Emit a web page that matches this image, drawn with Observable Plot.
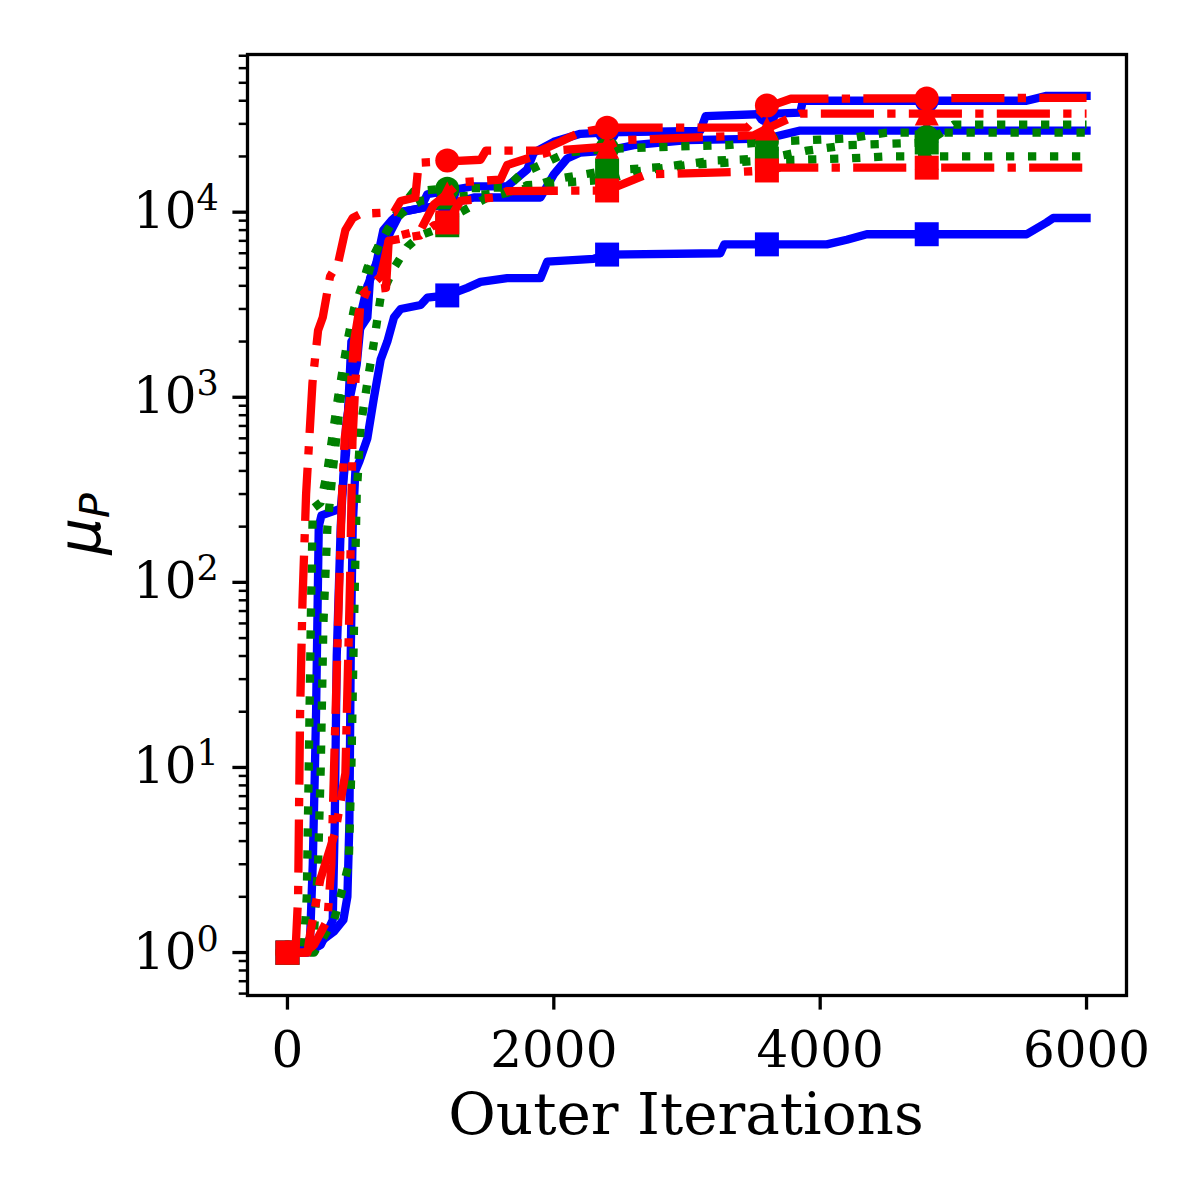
<!DOCTYPE html>
<html><head><meta charset="utf-8">
<script src="https://cdn.jsdelivr.net/npm/d3@7"></script>
<script src="https://cdn.jsdelivr.net/npm/@observablehq/plot@0.6"></script>
<style>body{margin:0;background:#fff}#chart{width:1200px;height:1200px}</style>
</head><body><div id="chart"></div>
<script>
// ---- data ----
const markerX = [0, 1200, 2400, 3600, 4800];
const xTicks = [0, 2000, 4000, 6000];
const yMajorTicks = [1, 10, 100, 1000, 10000];
const yMinorTicks = [0.6, 0.7, 0.8, 0.9, 2, 3, 4, 5, 6, 7, 8, 9, 20, 30, 40, 50, 60, 70, 80, 90,
  200, 300, 400, 500, 600, 700, 800, 900, 2000, 3000, 4000, 5000, 6000, 7000, 8000, 9000,
  20000, 30000, 40000, 50000, 60000, 70000];

const blueCircle = [[0,1],[100,1],[170,1.2],[190,3],[205,9],[215,20],[235,200],[255,230],[400,250],[440,500],[480,2000],[600,2700],[620,4400],[700,6000],[780,8000],[850,10000],[1000,10500],[1050,12500],[1400,13800],[1650,13800],[1800,17000],[1850,21000],[2000,24000],[2200,26500],[2400,27000],[3100,27500],[3140,33000],[3850,34500],[3870,40000],[5550,40000],[5700,42500],[6000,42500]];
const blueCircleMarks = [1, 12800, 27000, 34000, 40000];

const blueTriangle = [[0,1],[150,1],[250,1.1],[300,1.3],[340,1.5],[355,5],[370,40],[400,200],[440,700],[470,1000],[520,1500],[560,3000],[600,4000],[660,5000],[720,8000],[780,9000],[850,10000],[1000,10500],[1200,11000],[1400,12000],[1900,12000],[2000,16000],[2100,19500],[2200,21000],[2400,21500],[2600,23000],[3000,24500],[3600,25000],[3850,27600],[6000,27600]];
const blueTriangleMarks = [1, 11000, 21500, 25000, 27600];

const blueSquare = [[0,1],[100,1],[250,1.15],[350,1.3],[420,1.5],[450,2],[465,5],[475,40],[490,200],[510,400],[540,450],[600,600],[650,1000],[700,1600],[750,2000],[800,2700],[850,3000],[1000,3150],[1050,3450],[1200,3550],[1350,3900],[1450,4200],[1650,4400],[1900,4400],[1950,5400],[2300,5600],[2400,5900],[3250,6000],[3280,6700],[4050,6700],[4200,7100],[4350,7600],[5550,7600],[5700,8800],[5750,9300],[6000,9300]];
const blueSquareMarks = [1, 3550, 5900, 6700, 7600];

const greenCircle = [[0,1],[120,1],[145,2],[160,10],[175,60],[190,250],[250,270],[300,400],[380,1000],[450,2000],[500,3000],[560,4000],[600,5000],[680,6500],[750,8000],[800,9500],[870,11000],[950,13000],[1200,13400],[1650,13600],[1750,16000],[1900,18000],[2100,21000],[2400,22000],[2800,22500],[3300,23000],[3600,24000],[4200,25000],[4500,26900],[6000,26900]];
const greenCircleMarks = [1, 13400, 22000, 24000, 25500];

const greenTriangle = [[0,1],[150,1],[200,1.3],[230,3],[250,10],[270,60],[300,200],[340,400],[400,1000],[480,2000],[560,3500],[620,5000],[700,7000],[800,9000],[900,10500],[1000,11500],[1200,12000],[1500,12500],[1700,13000],[1800,14000],[2400,15000],[2600,16500],[3000,18000],[3600,19000],[4200,19500],[4500,20000],[6000,20000]];
const greenTriangleMarks = [1, 12000, 15000, 19000, 19700];

const greenSquare = [[0,1],[200,1],[350,1.5],[420,2.3],[460,3],[480,10],[500,60],[520,300],[550,700],[600,1200],[650,2000],[700,3500],[800,5000],[900,6500],[1000,7500],[1200,8500],[1300,10000],[1500,12000],[1800,13500],[2000,15000],[2400,16800],[2800,17500],[3200,19000],[3600,19500],[3900,21500],[4200,23000],[4800,23800],[5000,29700],[6000,29700]];
const greenSquareMarks = [1, 8500, 16800, 19500, 23800];

const redCircle = [[0,1],[60,1],[80,2],[95,20],[113,80],[140,300],[188,1200],[230,2300],[265,2700],[320,4500],[380,5300],[435,8000],[490,9300],[550,9800],[800,10000],[850,11500],[960,12000],[985,18500],[1450,19200],[1490,21500],[1900,21500],[2050,24000],[2200,27000],[2400,28600],[3450,28600],[3600,37000],[3780,41000],[6000,41500]];
const redCircleMarks = [1, 19000, 28600, 37700, 41100];

const redTriangle = [[0,1],[150,1],[173,1.3],[248,2.5],[360,4.5],[435,9.3],[470,100],[488,580],[510,1200],[550,3500],[600,3800],[740,3900],[760,7000],[850,7500],[1000,8000],[1100,11000],[1200,12600],[1300,14500],[1600,15000],[1650,18000],[1850,20000],[2000,21500],[2400,22600],[2500,24500],[3500,26000],[3600,28300],[3850,34100],[6000,34100]];
const redTriangleMarks = [1, 12600, 22600, 28300, 34100];

const redSquare = [[0,1],[130,1],[200,1.1],[300,1.5],[330,3],[350,10],[380,60],[410,300],[430,600],[470,1000],[500,2000],[540,3000],[600,3800],[700,4500],[760,7000],[1000,7500],[1100,8500],[1200,8800],[1300,11500],[1550,12000],[1650,13000],[2400,13100],[2600,15000],[2700,16000],[3400,16500],[3600,16800],[3700,17400],[6000,17400]];
const redSquareMarks = [1, 8800, 13100, 16800, 17400];

// ---- styles ----
const BLUE = "#0000ff", GREEN = "#008000", RED = "#ff0000";
const LW = 8.3;
const DOTTED = `${1*LW},${1.65*LW}`;
const DASHDOT = `${6.4*LW},${1.6*LW},${1*LW},${1.6*LW}`;
const H = 12;
const symCircle = {draw(ctx){ ctx.moveTo(H, 0); ctx.arc(0, 0, H, 0, 2*Math.PI); ctx.closePath(); }};
const symTriangle = {draw(ctx){ ctx.moveTo(0, -H); ctx.lineTo(H, H); ctx.lineTo(-H, H); ctx.closePath(); }};
const symSquare = {draw(ctx){ ctx.rect(-H, -H, 2*H, 2*H); }};

const series = [
  {line: blueCircle, marks: blueCircleMarks, color: BLUE, dash: null, sym: symCircle},
  {line: blueTriangle, marks: blueTriangleMarks, color: BLUE, dash: null, sym: symTriangle},
  {line: blueSquare, marks: blueSquareMarks, color: BLUE, dash: null, sym: symSquare},
  {line: greenCircle, marks: greenCircleMarks, color: GREEN, dash: DOTTED, sym: symCircle},
  {line: greenTriangle, marks: greenTriangleMarks, color: GREEN, dash: DOTTED, sym: symTriangle},
  {line: greenSquare, marks: greenSquareMarks, color: GREEN, dash: DOTTED, sym: symSquare},
  {line: redCircle, marks: redCircleMarks, color: RED, dash: DASHDOT, sym: symCircle},
  {line: redTriangle, marks: redTriangleMarks, color: RED, dash: DASHDOT, sym: symTriangle},
  {line: redSquare, marks: redSquareMarks, color: RED, dash: DASHDOT, sym: symSquare},
];

const seriesMarks = series.flatMap(s => [
  Plot.line(s.line, {x: d => d[0], y: d => d[1], stroke: s.color, strokeWidth: LW,
    strokeDasharray: s.dash || undefined, strokeLinecap: s.dash ? "butt" : "square", strokeLinejoin: "round"}),
  Plot.dot(markerX.map((x, i) => [x, s.marks[i]]), {x: d => d[0], y: d => d[1], fill: s.color, stroke: "none", r: 10, symbol: s.sym})
]);

const chart = Plot.plot({
  width: 1200, height: 1200,
  marginLeft: 247, marginRight: 74, marginTop: 54, marginBottom: 205,
  style: {fontFamily: "DejaVu Serif", fontSize: "50px", background: "#fff", color: "#000"},
  x: {domain: [-300, 6300]},
  y: {type: "log", domain: [0.586, 71100]},
  marks: [
    ...seriesMarks,
    Plot.axisX(xTicks, {tickSize: 14.6, tickPadding: 21, strokeWidth: 3.3, fontSize: 50, tickFormat: d => String(d), label: null}),
    Plot.axisY(yMajorTicks, {tickSize: 14.6, tickPadding: 14, strokeWidth: 3.3, fontSize: 50, tickFormat: d => "10^" + Math.round(Math.log10(d)), label: null}),
    Plot.axisY(yMinorTicks, {tickSize: 8.3, strokeWidth: 2.5, tickFormat: () => "", label: null}),
    Plot.frame({stroke: "#000", strokeWidth: 3.3})
  ]
});

const svg = d3.select(chart);
// render "10^k" tick labels with a real superscript
svg.selectAll("text").each(function() {
  const t = this.textContent;
  const m = /^10\^(\d)$/.exec(t);
  if (!m) return;
  this.textContent = "10";
  d3.select(this).append("tspan").attr("font-size", 35).attr("dy", -18).text(m[1]);
});
svg.append("text")
  .attr("x", 686).attr("y", 1134)
  .attr("text-anchor", "middle")
  .attr("font-family", "DejaVu Serif").attr("font-size", 58).attr("fill", "#000")
  .text("Outer Iterations");
const yl = svg.append("text")
  .attr("transform", "translate(100,524) rotate(-90)")
  .attr("text-anchor", "middle")
  .attr("font-family", "DejaVu Sans").attr("font-style", "italic").attr("font-size", 58).attr("fill", "#000");
yl.append("tspan").text("μ");
yl.append("tspan").attr("font-size", 41).attr("dy", 9).text("P");

document.getElementById("chart").appendChild(chart);
</script>
</body></html>
